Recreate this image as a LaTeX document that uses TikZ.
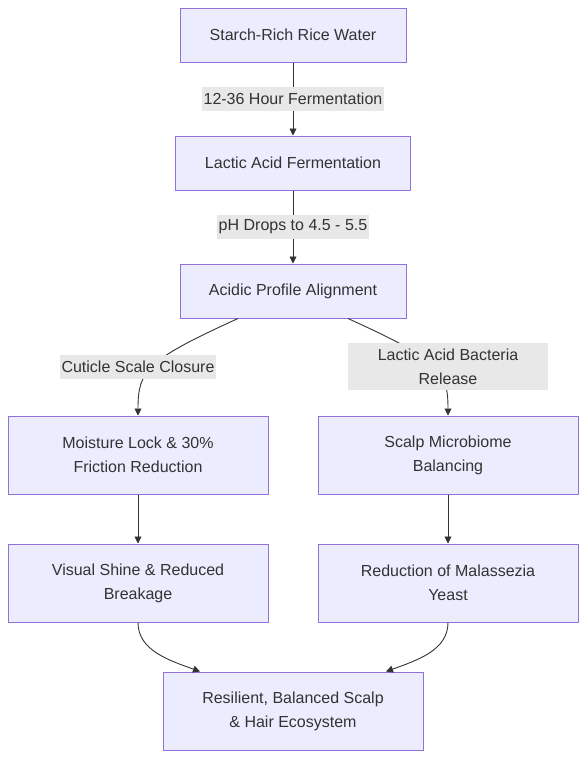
\documentclass[tikz,border=0pt]{standalone}
\usepackage{fontspec}
\setmainfont{Liberation Sans}
\usetikzlibrary{arrows.meta}
\definecolor{boxfill}{HTML}{ECECFF}
\definecolor{boxline}{HTML}{9370DB}
\definecolor{ink}{HTML}{333333}
\definecolor{lblfill}{HTML}{E8E8E8}
\begin{document}
\begin{tikzpicture}[x=1pt,y=-1pt,
	font=\fontsize{16pt}{24pt}\selectfont, text=ink,
	stepbox/.style={draw=boxline, fill=boxfill, line width=1pt, align=center, minimum width=260pt, minimum height=78pt, inner sep=0pt},
	topbox/.style={stepbox, minimum height=54pt},
	lbl/.style={fill=lblfill, align=center, inner xsep=2pt, inner ysep=0pt, minimum height=24pt},
	edge/.style={draw=ink, line width=0.9pt, -{Triangle[length=7pt,width=7pt]}}]
	\useasboundingbox (0,0) rectangle (586,758);
	\def\lx{138};
	\def\rx{448};

	\node[topbox, minimum width=226pt] (rice) at (293,35) {Starch-Rich Rice Water};
	\node[topbox, minimum width=235pt] (lactic) at (293,163) {Lactic Acid Fermentation};
	\node[topbox, minimum width=226pt] (acidic) at (293,291) {Acidic Profile Alignment};
	\node[stepbox] (moist) at (\lx,455) {Moisture Lock \& 30\%\\Friction Reduction};
	\node[stepbox] (scalp) at (\rx,455) {Scalp Microbiome\\Balancing};
	\node[stepbox] (shine) at (\lx,583) {Visual Shine \& Reduced\\Breakage};
	\node[stepbox] (malas) at (\rx,583) {Reduction of Malassezia\\Yeast};
	\node[stepbox] (eco) at (293,711) {Resilient, Balanced Scalp\\\& Hair Ecosystem};

	\draw[edge] (rice) -- node[lbl]{12-36 Hour Fermentation} (lactic);
	\draw[edge] (lactic) -- node[lbl]{pH Drops to 4.5 - 5.5} (acidic);

	\draw[edge] ([xshift=-55pt]acidic.south) .. controls (147,360) and (\lx,370) .. (moist.north);
	\draw[edge] ([xshift=55pt]acidic.south) .. controls (439,360) and (\rx,370) .. (scalp.north);
	\node[lbl] (cuticle) at (\lx,367) {Cuticle Scale Closure};
	\node[lbl, minimum width=200pt, minimum height=47pt] (bact) at (\rx,366.5) {Lactic Acid Bacteria\\Release};

	\draw[edge] (moist) -- (shine);
	\draw[edge] (scalp) -- (malas);

	\draw[edge] (shine.south) .. controls (\lx,650) and (168,660) .. ([xshift=-93pt]eco.north);
	\draw[edge] (malas.south) .. controls (\rx,650) and (418,660) .. ([xshift=93pt]eco.north);
\end{tikzpicture}
\end{document}
